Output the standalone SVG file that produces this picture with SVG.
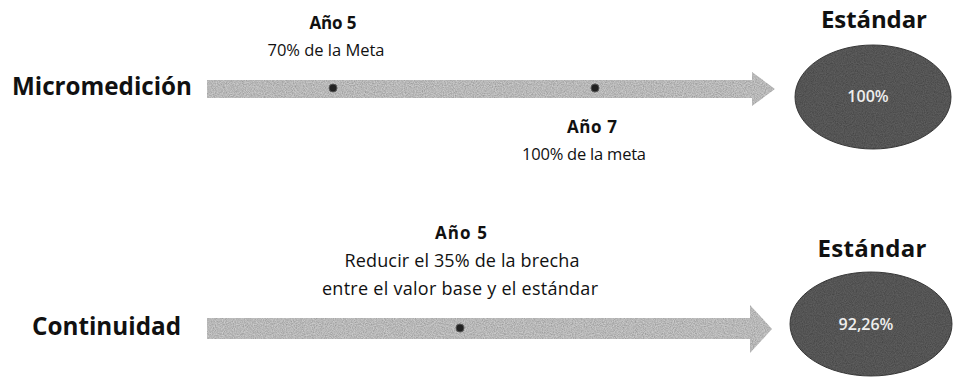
<svg xmlns="http://www.w3.org/2000/svg" width="953" height="377" viewBox="0 0 953 377">
<style>
.lbl{font-family:"Open Sans","Liberation Sans",sans-serif;font-weight:bold;fill:#111;}
.t{font-family:"Open Sans","Liberation Sans",sans-serif;fill:#111;text-anchor:middle;font-size:16.5px;}
.t2{font-size:18px;}
.b{font-weight:bold;font-size:17px;}
.arrow{fill:#cbcbcb;filter:url(#grain);}
.ell{fill:#5e5e5e;stroke:#3a3a3a;stroke-width:1;filter:url(#grain);}
.dot{fill:#222;stroke:#555;stroke-width:1;}
.inner{font-family:"Open Sans","Liberation Sans",sans-serif;fill:#eeeeee;text-anchor:middle;font-size:16px;font-weight:600;}
</style>
<defs>
<filter id="grain" x="-5%" y="-5%" width="110%" height="110%">
<feTurbulence type="fractalNoise" baseFrequency="0.9" numOctaves="2" seed="3" result="n"/>
<feColorMatrix in="n" type="matrix" values="0 0 0 0 0.5  0 0 0 0 0.5  0 0 0 0 0.5  0 0 0 -1.4 1.1" result="m"/>
<feComposite in="m" in2="SourceGraphic" operator="in" result="mm"/>
<feBlend in="SourceGraphic" in2="mm" mode="multiply"/>
</filter>
</defs>
<g id="connectors">
<path class="arrow" d="M207,80 L752,80 L752,72 L775,89 L752,106 L752,98 L207,98 Z"/>
<path class="arrow" d="M207,318 L750,318 L750,305 L772,329 L750,353 L750,339 L207,339 Z"/>
</g>
<g id="micromedicion">
<text class="lbl" x="12" y="95" font-size="25" textLength="180" lengthAdjust="spacingAndGlyphs">Micromedición</text>
</g>
<g id="m-ano5">
<circle class="dot" cx="333" cy="88" r="4"/>
<text class="t b" x="333" y="29" textLength="47">Año 5</text>
<text class="t" x="326" y="56" textLength="117">70% de la Meta</text>
</g>
<g id="m-ano7">
<circle class="dot" cx="595" cy="88" r="4"/>
<text class="t b" x="592" y="133" textLength="50">Año 7</text>
<text class="t" x="584" y="160" textLength="124">100% de la meta</text>
</g>
<g id="m-estandar">
<text class="lbl" x="874" y="28" font-size="24" text-anchor="middle" textLength="106">Estándar</text>
<ellipse class="ell" cx="873" cy="97" rx="78" ry="52"/>
<text class="inner" x="868" y="102">100%</text>
</g>
<g id="continuidad">
<text class="lbl" x="32" y="335" font-size="25" textLength="149" lengthAdjust="spacingAndGlyphs">Continuidad</text>
</g>
<g id="c-ano5">
<circle class="dot" cx="460" cy="328" r="4"/>
<text class="t b" x="461" y="239" textLength="52">Año 5</text>
<text class="t t2" x="462" y="267" textLength="235">Reducir el 35% de la brecha</text>
<text class="t t2" x="460" y="295" textLength="276">entre el valor base y el estándar</text>
</g>
<g id="c-estandar">
<text class="lbl" x="872" y="257" font-size="24" text-anchor="middle" textLength="109">Estándar</text>
<ellipse class="ell" cx="871" cy="324" rx="81" ry="52"/>
<text class="inner" x="866" y="330">92,26%</text>
</g>
</svg>
